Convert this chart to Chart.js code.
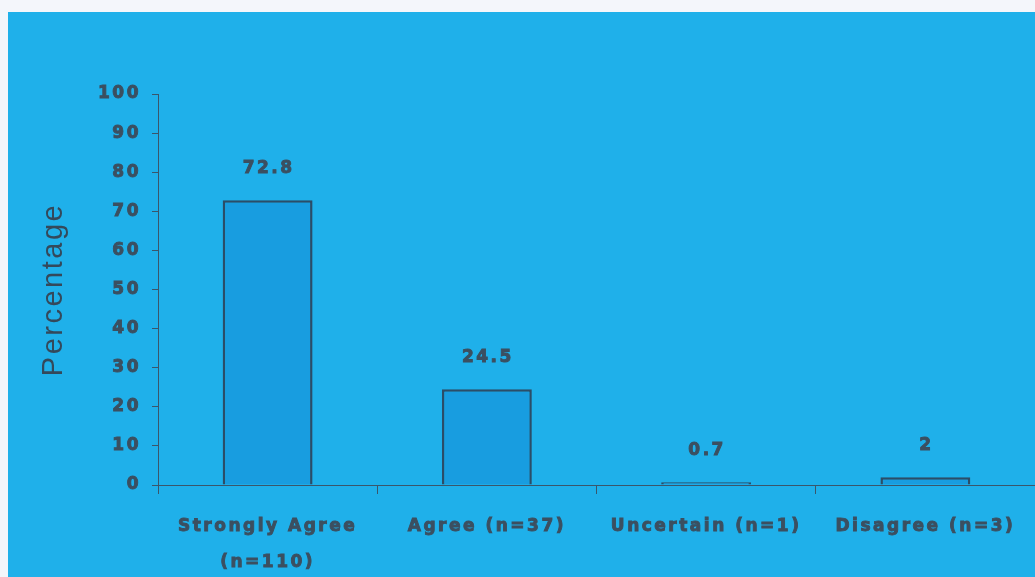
<!DOCTYPE html>
<html>
<head>
<meta charset="utf-8">
<script src="https://cdn.jsdelivr.net/npm/chart.js@4"></script>
<style>
  html, body { margin: 0; padding: 0; background: #f4f6fb; overflow: hidden; }
  #wrap { position: absolute; left: 8px; top: 12px; width: 1027px; height: 565px; background: #1fb0ea; }
</style>
</head>
<body>
<div id="wrap"><canvas id="myChart" width="1027" height="565"></canvas></div>
<script>
// survey responses
let categories = [['Strongly Agree', '(n=110)'], 'Agree (n=37)', 'Uncertain (n=1)', 'Disagree (n=3)'];
let percentages = [72.8, 24.5, 0.7, 2];
let yTicks = [0, 10, 20, 30, 40, 50, 60, 70, 80, 90, 100];

let textColor = '#3b4f60';
let axisColor = '#3a566b';

// wide letter spacing for all canvas text
let spacing = {
    id: 'spacing',
    beforeUpdate(chart) { chart.ctx.letterSpacing = '2.5px'; },
    beforeDraw(chart) { chart.ctx.letterSpacing = '2.5px'; }
};

// value above each bar
let valueLabels = {
    id: 'valueLabels',
    afterDatasetsDraw(chart) {
        let ctx = chart.ctx;
        let meta = chart.getDatasetMeta(0);
        ctx.save();
        ctx.letterSpacing = '2.5px';
        ctx.font = 'bold 17px "DejaVu Sans"';
        ctx.fillStyle = textColor;
        ctx.strokeStyle = textColor;
        ctx.lineWidth = 0.9;
        ctx.textAlign = 'center';
        ctx.textBaseline = 'middle';
        meta.data.forEach(function (bar, i) {
            let label = String(percentages[i]);
            ctx.strokeText(label, bar.x + 1, bar.y - 32);
            ctx.fillText(label, bar.x + 1, bar.y - 32);
        });
        ctx.restore();
    }
};

var ctx = document.getElementById('myChart').getContext('2d');
var myChart = new Chart(ctx, {
    type: 'bar',
    data: {
        labels: categories,
        datasets: [{
            data: percentages,
            backgroundColor: '#189de0',
            borderColor: '#2b4d68',
            borderWidth: 2.5,
            barPercentage: 0.41,
            categoryPercentage: 1
        }]
    },
    options: {
        responsive: false,
        animation: false,
        layout: { padding: { top: 82, left: 0, right: 0, bottom: 0 } },
        plugins: { legend: { display: false }, tooltip: { enabled: false } },
        scales: {
            y: {
                min: 0,
                max: 100,
                afterBuildTicks(scale) { scale.ticks = yTicks.map(v => ({ value: v })); },
                afterFit(scale) { scale.width = 150; },
                border: { display: true, color: axisColor, width: 1 },
                grid: { drawOnChartArea: false, drawTicks: true, tickLength: 6, color: axisColor },
                ticks: {
                    color: textColor,
                    textStrokeColor: textColor,
                    textStrokeWidth: 0.9,
                    padding: 11,
                    font: { family: 'DejaVu Sans', size: 17, weight: 'bold' }
                },
                title: {
                    display: true,
                    text: 'Percentage',
                    color: '#34495b',
                    padding: { top: 29, bottom: 0 },
                    font: { family: 'Liberation Sans', size: 29 }
                }
            },
            x: {
                afterFit(scale) { scale.height = 92; },
                border: { display: true, color: axisColor, width: 1 },
                grid: { drawOnChartArea: false, drawTicks: true, tickLength: 9, color: axisColor, offset: true },
                ticks: {
                    color: textColor,
                    textStrokeColor: textColor,
                    textStrokeWidth: 0.9,
                    padding: 15,
                    maxRotation: 0,
                    autoSkip: false,
                    font: { family: 'DejaVu Sans', size: 17, weight: 'bold', lineHeight: 2.1 }
                }
            }
        }
    },
    plugins: [spacing, valueLabels]
});
</script>
</body>
</html>
